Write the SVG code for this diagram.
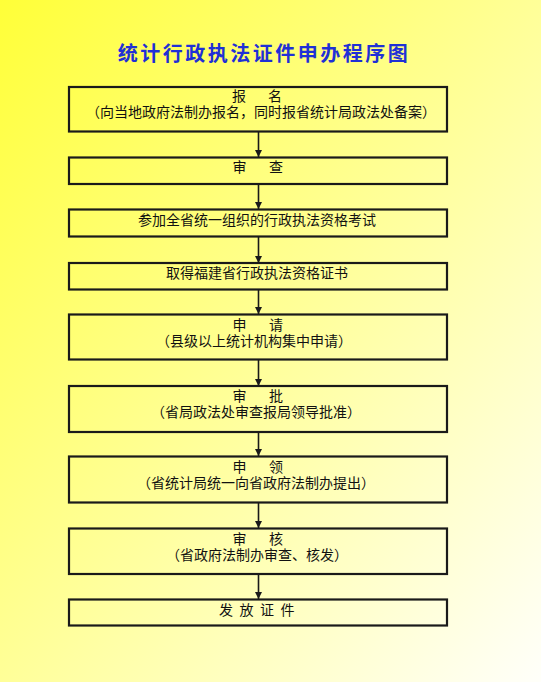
<svg xmlns="http://www.w3.org/2000/svg" width="541" height="682" viewBox="0 0 541 682">
<defs>
<linearGradient id="bg" x1="0" y1="0" x2="1" y2="1">
<stop offset="0" stop-color="#ffff38"/>
<stop offset="0.5" stop-color="#ffff98"/>
<stop offset="1" stop-color="#fffffa"/>
</linearGradient>
<marker id="arr" markerWidth="8" markerHeight="8" refX="3.5" refY="7" orient="auto-start-reverse" markerUnits="userSpaceOnUse" viewBox="0 0 7 7">
<path d="M0,0 L7,0 L3.5,7 Z" fill="#1a1a1a"/>
</marker>
</defs>
<style>
.box{fill:none;stroke:#1a1a1a;stroke-width:2.2}
.t{font-family:"Noto Sans CJK SC","Noto Sans CJK JP",sans-serif;font-size:14px;fill:#111;text-anchor:middle}
.title{font-family:"Noto Sans CJK SC","Noto Sans CJK JP",sans-serif;font-size:20px;font-weight:bold;fill:#1f30d6;text-anchor:middle;letter-spacing:2.5px}
.c{stroke:#1a1a1a;stroke-width:1.6;fill:none}
</style>
<rect x="0" y="0" width="541" height="682" fill="url(#bg)"/>
<text class="title" x="264" y="61">统计行政执法证件申办程序图</text>
<g id="connectors">
<line class="c" x1="258.5" y1="132" x2="258.5" y2="157"/>
<path d="M255,150 L262,150 L258.5,157 Z" fill="#1a1a1a"/>
<line class="c" x1="258.5" y1="185" x2="258.5" y2="209"/>
<path d="M255,202 L262,202 L258.5,209 Z" fill="#1a1a1a"/>
<line class="c" x1="258.5" y1="237" x2="258.5" y2="263"/>
<path d="M255,256 L262,256 L258.5,263 Z" fill="#1a1a1a"/>
<line class="c" x1="258.5" y1="290" x2="258.5" y2="314"/>
<path d="M255,307 L262,307 L258.5,314 Z" fill="#1a1a1a"/>
<line class="c" x1="258.5" y1="360" x2="258.5" y2="386"/>
<path d="M255,379 L262,379 L258.5,386 Z" fill="#1a1a1a"/>
<line class="c" x1="258.5" y1="433" x2="258.5" y2="456"/>
<path d="M255,449 L262,449 L258.5,456 Z" fill="#1a1a1a"/>
<line class="c" x1="258.5" y1="503" x2="258.5" y2="528"/>
<path d="M255,521 L262,521 L258.5,528 Z" fill="#1a1a1a"/>
<line class="c" x1="258.5" y1="574" x2="258.5" y2="599"/>
<path d="M255,592 L262,592 L258.5,599 Z" fill="#1a1a1a"/>
</g>
<g id="n1">
<rect class="box" x="69" y="87" width="378" height="44.5"/>
<text class="t" x="239 275" y="101">报名</text>
<text class="t" x="261" y="117">（向当地政府法制办报名，同时报省统计局政法处备案）</text>
</g>
<g id="n2">
<rect class="box" x="69" y="157.5" width="378" height="26.5"/>
<text class="t" x="239.5 276" y="172">审查</text>
</g>
<g id="n3">
<rect class="box" x="69" y="209.5" width="378" height="27"/>
<text class="t" x="257" y="225">参加全省统一组织的行政执法资格考试</text>
</g>
<g id="n4">
<rect class="box" x="69" y="263" width="378" height="26.5"/>
<text class="t" x="257" y="278">取得福建省行政执法资格证书</text>
</g>
<g id="n5">
<rect class="box" x="69" y="314.5" width="378" height="45"/>
<text class="t" x="239.5 276" y="330">申请</text>
<text class="t" x="254" y="346">（县级以上统计机构集中申请）</text>
</g>
<g id="n6">
<rect class="box" x="69" y="386" width="378" height="46"/>
<text class="t" x="239.5 276" y="401">审批</text>
<text class="t" x="256" y="417">（省局政法处审查报局领导批准）</text>
</g>
<g id="n7">
<rect class="box" x="69" y="456.5" width="378" height="46"/>
<text class="t" x="239.5 276" y="472">申领</text>
<text class="t" x="256" y="488">（省统计局统一向省政府法制办提出）</text>
</g>
<g id="n8">
<rect class="box" x="69" y="528.5" width="378" height="45.5"/>
<text class="t" x="239.5 276" y="544">审核</text>
<text class="t" x="257" y="560">（省政府法制办审查、核发）</text>
</g>
<g id="n9">
<rect class="box" x="69" y="599.5" width="378" height="26"/>
<text class="t" x="226 246.5 267 287.5" y="615">发放证件</text>
</g>
</svg>
